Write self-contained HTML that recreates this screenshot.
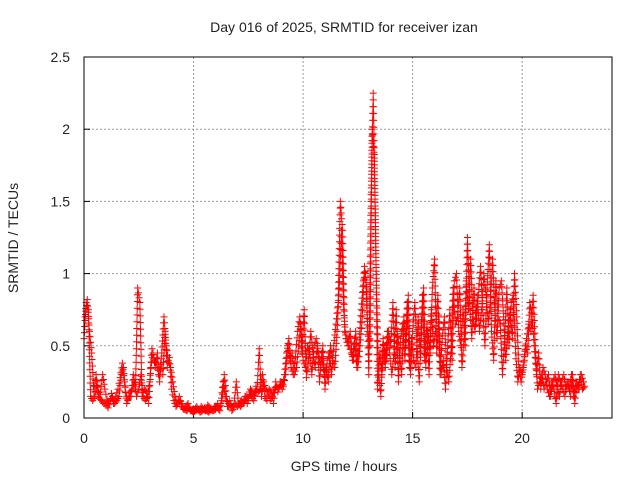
<!DOCTYPE html>
<html><head><meta charset="utf-8"><style>
body{margin:0;background:#fff}
svg text{font-family:"Liberation Sans",sans-serif;font-size:14px;fill:#222}
</style></head><body>
<svg id="chart" width="640" height="480">
<rect width="640" height="480" fill="#fff"/>
<text x="344" y="32" text-anchor="middle">Day 016 of 2025, SRMTID for receiver izan</text>
<text x="344" y="471" text-anchor="middle">GPS time / hours</text>
<text transform="translate(18,238) rotate(-90)" text-anchor="middle">SRMTID / TECUs</text>
<g id="grid"></g><g id="ticks"></g><g id="marks"></g>
<rect x="84" y="57" width="528" height="361" fill="none" stroke="#000" stroke-width="1"/>
</svg>
<script>
const xTicks=[0,5,10,15,20];
const yTicks=[0,0.5,1,1.5,2,2.5];
const yTickLabels=["0","0.5","1","1.5","2","2.5"];
const startHour=0, stepHour=0.1;
const seriesA=[
0.55,0.8,0.75,0.15,0.12,0.15,0.25,0.14,0.12,0.1,
0.1,0.07,0.12,0.15,0.1,0.12,0.15,0.3,0.35,0.18,
0.12,0.18,0.2,0.25,0.15,0.2,0.3,0.15,0.12,0.15,
0.25,0.48,0.4,0.38,0.3,0.38,0.3,0.6,0.35,0.42,
0.2,0.12,0.08,0.1,0.12,0.08,0.06,0.05,0.07,0.05,
0.04,0.05,0.06,0.04,0.05,0.07,0.05,0.04,0.06,0.05,
0.06,0.1,0.05,0.12,0.3,0.15,0.08,0.1,0.06,0.1,
0.08,0.1,0.12,0.1,0.15,0.12,0.2,0.18,0.15,0.2,
0.48,0.15,0.25,0.2,0.18,0.12,0.15,0.2,0.22,0.2,
0.25,0.22,0.3,0.5,0.4,0.45,0.3,0.35,0.5,0.65,
0.4,0.35,0.5,0.45,0.3,0.5,0.55,0.45,0.35,0.5,
0.2,0.4,0.45,0.3,0.5,0.65,0.8,1.5,1.3,0.6,
0.55,0.5,0.45,0.4,0.6,0.35,0.5,0.7,1.05,0.9,
0.3,1.5,2.25,1.4,0.2,0.45,0.3,0.5,0.4,0.6,
0.5,0.8,0.35,0.6,0.45,0.3,0.7,0.5,0.85,0.3,
0.6,0.8,0.5,0.25,0.55,0.9,0.35,0.6,0.45,0.9,
1.1,0.45,0.7,0.3,0.4,0.2,0.5,0.75,0.4,0.95,
1.0,0.6,0.5,0.75,0.5,1.25,0.8,0.55,0.9,0.65,
0.85,1.05,0.75,0.5,0.9,1.2,0.6,0.4,0.95,0.7,
0.65,0.3,0.55,0.9,0.5,0.8,0.85,0.45,0.25,0.35,
0.3,0.4,0.55,0.65,0.6,0.85,0.5,0.2,0.25,0.3,
0.2,0.25,0.3,0.15,0.25,0.3,0.2,0.15,0.25,0.3,
0.2,0.25,0.15,0.3,0.1,0.25,0.2,0.3,0.25];
const seriesB=[
0.7,0.82,0.6,0.45,0.18,0.3,0.15,0.18,0.3,0.2,
0.13,0.1,0.17,0.1,0.15,0.2,0.28,0.38,0.25,0.1,
0.15,0.15,0.3,0.2,0.9,0.8,0.15,0.2,0.18,0.1,
0.35,0.45,0.35,0.45,0.25,0.45,0.7,0.5,0.4,0.35,
0.25,0.15,0.1,0.15,0.08,0.06,0.08,0.1,0.05,0.06,
0.06,0.08,0.05,0.08,0.06,0.05,0.09,0.07,0.05,0.08,
0.08,0.06,0.1,0.25,0.15,0.08,0.12,0.05,0.1,0.25,
0.1,0.08,0.1,0.15,0.1,0.18,0.15,0.12,0.22,0.18,
0.2,0.3,0.15,0.12,0.2,0.18,0.1,0.25,0.18,0.25,
0.2,0.3,0.45,0.55,0.35,0.3,0.42,0.6,0.7,0.45,
0.75,0.28,0.4,0.6,0.45,0.35,0.5,0.25,0.45,0.3,
0.35,0.25,0.5,0.4,0.35,0.6,0.9,1.3,0.75,0.55,
0.5,0.6,0.4,0.55,0.35,0.5,0.75,0.95,1.0,0.6,
0.5,2.0,1.8,0.9,0.3,0.15,0.55,0.35,0.6,0.45,
0.3,0.45,0.75,0.25,0.55,0.65,0.4,0.8,0.35,0.55,
0.4,0.35,0.7,0.45,0.85,0.4,0.65,0.3,0.75,0.5,
0.6,0.85,0.3,0.55,0.7,0.35,0.25,0.45,0.9,0.65,
0.7,0.9,0.35,0.55,0.95,0.75,1.1,0.7,0.6,0.85,
0.6,0.75,1.0,0.85,0.65,0.8,1.1,0.75,0.55,0.9,
0.95,0.7,0.4,0.6,0.75,0.55,1.0,0.7,0.35,0.25,
0.35,0.5,0.45,0.8,0.7,0.5,0.3,0.45,0.2,0.35,
0.3,0.2,0.15,0.25,0.2,0.1,0.3,0.25,0.2,0.15,
0.25,0.2,0.3,0.15,0.25,0.2,0.3,0.2,0.22];

const X0=84,X1=612,Y0=418,Y1=57,XMAX=24.1,YMAX=2.5;
function xs(v){return X0+(v/XMAX)*(X1-X0);}
function ys(v){return Y0-(v/YMAX)*(Y0-Y1);}
const NS="http://www.w3.org/2000/svg";
function mk(tag,attrs,parent){const e=document.createElementNS(NS,tag);for(const k in attrs)e.setAttribute(k,attrs[k]);parent.appendChild(e);return e;}
const grid=document.getElementById('grid'),ticks=document.getElementById('ticks'),marks=document.getElementById('marks');
xTicks.forEach(t=>{const x=xs(t);
 if(t>0){const g=mk('line',{x1:x,y1:Y1,x2:x,y2:Y0,stroke:'#999','stroke-dasharray':'2,2'},grid);
 
 }
 mk('line',{x1:x,y1:Y0,x2:x,y2:Y0-6,stroke:'#000'},ticks);
 const tx=mk('text',{x:x,y:443,'text-anchor':'middle'},ticks);tx.textContent=t;
 
 
});
yTicks.forEach((t,i)=>{const y=ys(t);
 if(t>0){const g=mk('line',{x1:X0,y1:y,x2:X1,y2:y,stroke:'#999','stroke-dasharray':'2,2'},grid);
 
 }
 mk('line',{x1:X0,y1:y,x2:X0+6,y2:y,stroke:'#000'},ticks);
 const tx=mk('text',{x:70,y:y+5,'text-anchor':'end'},ticks);tx.textContent=yTickLabels[i];
 
 
});
function drawSeries(arr,dx,name){
 let d='';
 for(let i=0;i<arr.length-1;i++){
  const xa=xs(startHour+i*stepHour)+dx,xb=xs(startHour+(i+1)*stepHour)+dx;
  const ya=ys(arr[i]),yb=ys(arr[i+1]);
  const n=Math.max(2,Math.ceil(Math.abs(yb-ya)/7));
  for(let k=1;k<n;k++){const f=k/n;const x=xa+(xb-xa)*f,y=ya+(yb-ya)*f;
   d+=`M${(x-3.5).toFixed(1)},${y.toFixed(1)}h7M${x.toFixed(1)},${(y-3.5).toFixed(1)}v7`;}
 }
 const f=mk('path',{d:d,stroke:'#f00','stroke-width':1,fill:'none'},marks);
 
 
 arr.forEach((v,i)=>{const x=xs(startHour+i*stepHour)+dx,y=ys(v);
  const p=mk('path',{d:`M${x-3.5},${y}h7M${x},${y-3.5}v7`,stroke:'#f00','stroke-width':1,fill:'none'},marks);
  
  });
}
drawSeries(seriesA,0,'series-a');
drawSeries(seriesB,1.1,'series-b');
</script>
</body></html>
